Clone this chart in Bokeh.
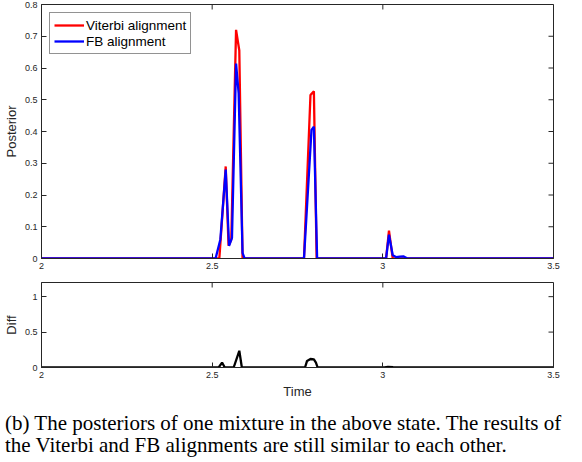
import math
from bokeh.plotting import figure
from bokeh.models import Range1d, FixedTicker, Legend, LegendItem, Div
from bokeh.layouts import column
from bokeh.embed import file_html
from bokeh.resources import INLINE

# ---- data ----
vit_time = [2.0, 2.521, 2.5397, 2.548, 2.556, 2.570, 2.5795, 2.589, 2.769, 2.788,
            2.798, 2.806, 3.0095, 3.018, 3.029, 3.5]
vit_post = [0, 0, 0.29, 0.04, 0.06, 0.72, 0.655, 0, 0, 0.515,
            0.527, 0, 0, 0.088, 0, 0]

fb_time = [2.0, 2.510, 2.524, 2.5397, 2.5495, 2.558, 2.570, 2.5776, 2.589, 2.595,
           2.769, 2.791, 2.798, 2.8075, 3.0095, 3.018, 3.029, 3.04, 3.05, 3.06, 3.072, 3.5]
fb_post = [0, 0, 0.06, 0.28, 0.04, 0.065, 0.614, 0.52, 0.018, 0,
           0, 0.405, 0.415, 0, 0, 0.075, 0.01, 0.004, 0.006, 0.007, 0, 0]

diff_time = [2.0, 2.519, 2.529, 2.537, 2.563, 2.5795, 2.587, 2.772, 2.778, 2.788,
             2.798, 2.804, 2.809, 3.005, 3.015, 3.03, 3.06, 3.5]
diff_val = [0, 0, 0.07, 0, 0, 0.236, 0, 0, 0.093, 0.12,
            0.115, 0.07, 0, 0, 0.01, 0.004, 0, 0]

x_lim = (2, 3.5)
y1_lim = (0, 0.8)
y2_lim = (0, 1.2)
x_ticks = [2, 2.5, 3, 3.5]
y1_ticks = [0, 0.1, 0.2, 0.3, 0.4, 0.5, 0.6, 0.7, 0.8]
y2_ticks = [0, 0.5, 1]
legend_labels = ["Viterbi alignment", "FB alignment"]
caption = ("(b) The posteriors of one mixture in the above state. The results of<br>"
           "the Viterbi and FB alignments are still similar to each other.")

FONT = "Liberation Sans"
AX = "#262626"


def style_axis(ax, ticks):
    ax.ticker = FixedTicker(ticks=ticks)
    ax.major_tick_in = 5
    ax.major_tick_out = 0
    ax.minor_tick_in = 0
    ax.minor_tick_out = 0
    ax.axis_line_color = AX
    ax.major_tick_line_color = AX
    ax.major_label_text_font = FONT
    ax.major_label_text_color = AX
    ax.major_label_text_font_size = "9px"
    ax.major_label_standoff = 4
    ax.axis_label_text_font = FONT
    ax.axis_label_text_font_style = "normal"
    ax.axis_label_text_font_size = "13px"
    ax.axis_label_text_color = AX


def make_fig(fh, ylim, yt, ylabel, xlabel, bt):
    p = figure(frame_width=512, frame_height=fh, output_backend="svg",
               toolbar_location=None,
               x_range=Range1d(*x_lim), y_range=Range1d(*ylim),
               min_border_left=30, min_border_right=10, min_border_top=bt,
               min_border_bottom=0)
    p.xgrid.visible = False
    p.ygrid.visible = False
    p.outline_line_color = AX
    p.outline_line_alpha = 1
    style_axis(p.xaxis[0], x_ticks)
    style_axis(p.yaxis[0], yt)
    p.yaxis[0].axis_label = ylabel
    p.yaxis[0].axis_label_standoff = 3
    if xlabel:
        p.xaxis[0].axis_label = xlabel
        p.xaxis[0].axis_label_standoff = 3
    # mirrored inward ticks on the right and top edges
    p.ray(x=[x_lim[1]] * len(yt), y=yt, length=5, length_units="screen",
          angle=math.pi, line_color=AX, line_width=1)
    p.ray(x=x_ticks, y=[ylim[1]] * len(x_ticks), length=5, length_units="screen",
          angle=-math.pi / 2, line_color=AX, line_width=1)
    return p


p1 = make_fig(254, y1_lim, y1_ticks, "Posterior", None, 4)
r1 = p1.line(vit_time, vit_post, line_color="#FF0000", line_width=2.3)
r2 = p1.line(fb_time, fb_post, line_color="#0000FF", line_width=2.3)
leg = Legend(items=[LegendItem(label=legend_labels[0], renderers=[r1]),
                    LegendItem(label=legend_labels[1], renderers=[r2])],
             location="top_left")
leg.label_text_font = FONT
leg.label_text_font_size = "13.5px"
leg.label_text_color = "black"
leg.border_line_color = AX
leg.border_line_width = 1
leg.glyph_width = 30
leg.glyph_height = 16
leg.spacing = 0
leg.padding = 4
leg.margin = 8
leg.label_standoff = 2
leg.label_height = 16
p1.add_layout(leg)

p2 = make_fig(85, y2_lim, y2_ticks, "Diff", "Time", 11)
p2.line(diff_time, diff_val, line_color="black", line_width=2.3)

div = Div(text=caption, width=566, height=48,
          styles={"font-family": "Liberation Serif", "font-size": "21px",
                  "line-height": "22px", "white-space": "nowrap", "color": "black",
                  "padding-top": "6px"})

layout = column(p1, p2, div)
open("out.html", "w").write(file_html(layout, INLINE))
